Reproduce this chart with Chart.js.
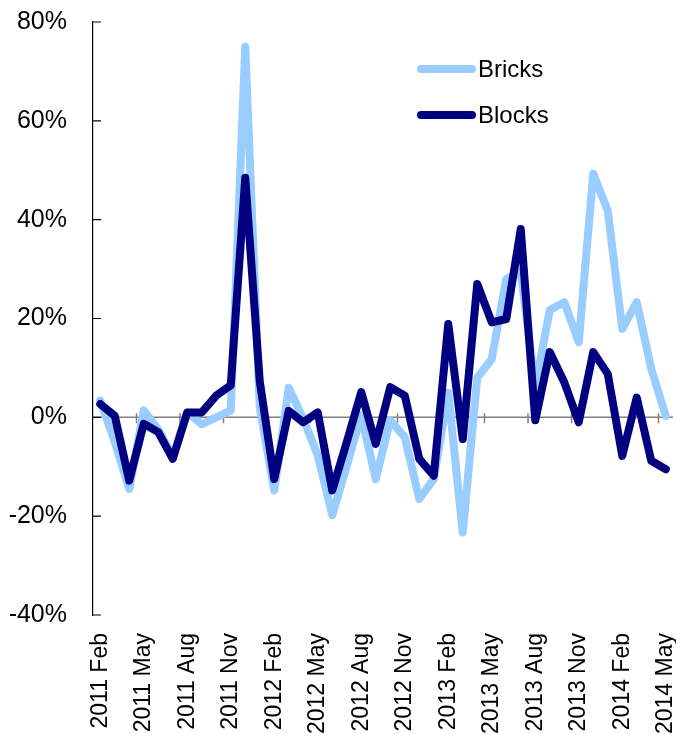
<!DOCTYPE html>
<html>
<head>
<meta charset="UTF-8">
<title>Bricks and Blocks</title>
<script src="https://cdn.jsdelivr.net/npm/chart.js"></script>
<style>
    body { margin: 0; background: #fff; }
    #chartBox { width: 676px; height: 734px; }
</style>
</head>
<body>
<div id="chartBox">
    <canvas id="brickChart" width="676" height="734"></canvas>
</div>

<script>
    // monthly categories, 2011 Feb .. 2014 May
    const months = ['Jan', 'Feb', 'Mar', 'Apr', 'May', 'Jun', 'Jul', 'Aug', 'Sep', 'Oct', 'Nov', 'Dec'];
    const labels = [];
    for (let y = 2011; y <= 2014; y++) {
        for (let m = 0; m < 12; m++) {
            if (y === 2011 && m < 1) continue;
            if (y === 2014 && m > 4) continue;
            labels.push(y + ' ' + months[m]);
        }
    }

    // (% change)
    const bricks = [3.4, -5, -14.5, 1.4, -2.5, -8, 1, -1.4, 0, 1.4,
                    75, 2, -14.8, 6, -0.3, -7.7, -19.8, -9.8, 0.4, -12.5,
                    -0.6, -4, -16.5, -12.5, 5, -23.3, 8, 11.8, 28, 29.5,
                    6, 21.7, 23.3, 15.2, 49.3, 41.8, 17.9, 23.3, 9.8, 0.3];
    const blocks = [2.7, 0.3, -12.8, -1.3, -3, -8.4, 1, 1, 4.4, 6.5,
                    48.5, 7.3, -12.5, 1.3, -1, 1, -14.8, -5, 5.1, -5.4,
                    6.1, 4.4, -8.4, -11.8, 18.9, -4.4, 27, 19.2, 19.9, 38.1,
                    -0.6, 13.2, 7.1, -1, 13.2, 8.8, -7.8, 4, -8.8, -10.5];

    const yTicks = [-40, -20, 0, 20, 40, 60, 80];

    const FONT = '"Liberation Sans", Arial, sans-serif';

    // zero line with tick marks, inner y ticks and the legend
    const decorations = {
        id: 'decorations',
        beforeDatasetsDraw(chart) {
            const ctx = chart.ctx;
            const xs = chart.scales.x;
            const ys = chart.scales.y;
            const area = chart.chartArea;
            const y0 = ys.getPixelForValue(0);
            ctx.save();
            ctx.strokeStyle = '#7f7f7f';
            ctx.lineWidth = 1.5;
            ctx.beginPath();
            ctx.moveTo(area.left, y0);
            ctx.lineTo(area.right, y0);
            for (let i = 3; i < labels.length; i += 3) {
                const x = (xs.getPixelForValue(i - 1) + xs.getPixelForValue(i)) / 2;
                ctx.moveTo(x, y0 - 4);
                ctx.lineTo(x, y0 + 6);
            }
            ctx.stroke();

            ctx.strokeStyle = '#000';
            ctx.lineWidth = 1.2;
            ctx.beginPath();
            yTicks.forEach(v => {
                const y = ys.getPixelForValue(v);
                ctx.moveTo(area.left, y);
                ctx.lineTo(area.left + 8, y);
            });
            ctx.stroke();
            ctx.restore();
        },
        afterDraw(chart) {
            const ctx = chart.ctx;
            ctx.save();
            ctx.font = '24px ' + FONT;
            ctx.textBaseline = 'middle';
            ctx.lineCap = 'round';
            const rows = [chart.data.datasets[1], chart.data.datasets[0]];
            rows.forEach((ds, k) => {
                const y = 69 + k * 46;
                ctx.strokeStyle = ds.borderColor;
                ctx.lineWidth = 8;
                ctx.beginPath();
                ctx.moveTo(421, y);
                ctx.lineTo(472, y);
                ctx.stroke();
                ctx.fillStyle = '#000';
                ctx.fillText(ds.label, 478, y + 1);
            });
            ctx.restore();
        }
    };

    const ctx = document.getElementById('brickChart').getContext('2d');
    new Chart(ctx, {
        type: 'line',
        data: {
            labels: labels,
            datasets: [
                {
                    label: 'Blocks',
                    data: blocks,
                    borderColor: '#000080',
                    borderWidth: 8,
                    order: 1
                },
                {
                    label: 'Bricks',
                    data: bricks,
                    borderColor: '#99ccff',
                    borderWidth: 8,
                    order: 2
                }
            ]
        },
        options: {
            responsive: false,
            animation: false,
            devicePixelRatio: 1,
            layout: { padding: { top: 0, right: 3, left: 0, bottom: 0 } },
            elements: {
                point: { radius: 0 },
                line: { tension: 0, borderJoinStyle: 'round', borderCapStyle: 'round' }
            },
            plugins: {
                legend: { display: false },
                tooltip: { enabled: false }
            },
            scales: {
                x: {
                    offset: true,
                    grid: { display: false, drawTicks: false },
                    border: { display: false },
                    afterFit(scale) {
                        scale.height = 119;
                        scale.paddingLeft = 0;
                        scale.paddingRight = 0;
                    },
                    ticks: {
                        autoSkip: false,
                        minRotation: 90,
                        maxRotation: 90,
                        padding: 18,
                        color: '#000',
                        font: { family: FONT, size: 23 },
                        callback: (v, i) => (i % 3 === 0 ? labels[i] : '')
                    }
                },
                y: {
                    min: -40,
                    max: 80,
                    grid: { display: false, drawTicks: false },
                    border: { display: true, color: '#000', width: 1.2 },
                    afterFit(scale) {
                        scale.width = 93;
                        scale.paddingTop = 22;
                        scale.paddingBottom = 0;
                    },
                    ticks: {
                        stepSize: 20,
                        padding: 26,
                        color: '#000',
                        font: { family: FONT, size: 25 },
                        callback: v => v + '%'
                    }
                }
            }
        },
        plugins: [decorations]
    });
</script>
</body>
</html>
